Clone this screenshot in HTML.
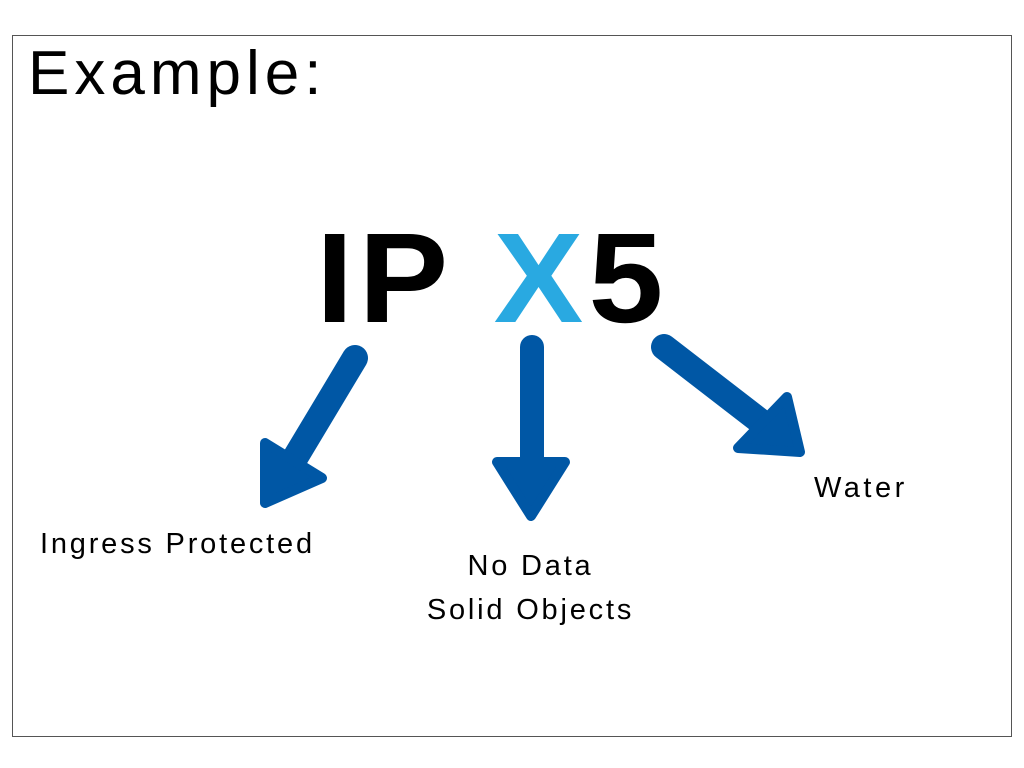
<!DOCTYPE html>
<html><head><style>
body{margin:0;width:1024px;height:768px;background:#fff;overflow:hidden;position:relative;font-family:"Liberation Sans",sans-serif}
.box{position:absolute;left:12px;top:35px;width:998px;height:700px;border:1.5px solid #555;}
.t{position:absolute;white-space:nowrap;color:#000}
</style></head><body>
<div class="box"></div>
<div class="t" style="left:28px;top:38px;font-size:62px;letter-spacing:5px">Example:</div>
<div class="t" style="left:316px;top:205px;font-size:128px;font-weight:bold;letter-spacing:5px;transform-origin:0 0;transform:scaleX(1.05)">IP <span style="color:#29a9e1">X</span>5</div>
<svg style="position:absolute;left:0;top:0" width="1024" height="768">
<g stroke="#0057a5" fill="#0057a5" stroke-linejoin="round" stroke-linecap="round">
<line x1="355" y1="358" x2="295" y2="458" stroke-width="26"/>
<polygon points="265,443 322,478 265,503" stroke-width="10"/>
<line x1="532" y1="347" x2="532" y2="465" stroke-width="24"/>
<polygon points="497,462 565,462 531,516" stroke-width="10"/>
<line x1="664" y1="347" x2="765" y2="425" stroke-width="26"/>
<polygon points="738,448 787,397 800,452" stroke-width="10"/>
</g>
</svg>
<div class="t" style="left:40px;top:528px;font-size:29px;letter-spacing:2.8px">Ingress Protected</div>
<div class="t" style="left:408px;top:544px;font-size:29px;text-align:center;width:245px;line-height:44px;letter-spacing:2.8px">No Data<br>Solid Objects</div>
<div class="t" style="left:814px;top:472px;font-size:29px;letter-spacing:3.5px">Water</div>
</body></html>
